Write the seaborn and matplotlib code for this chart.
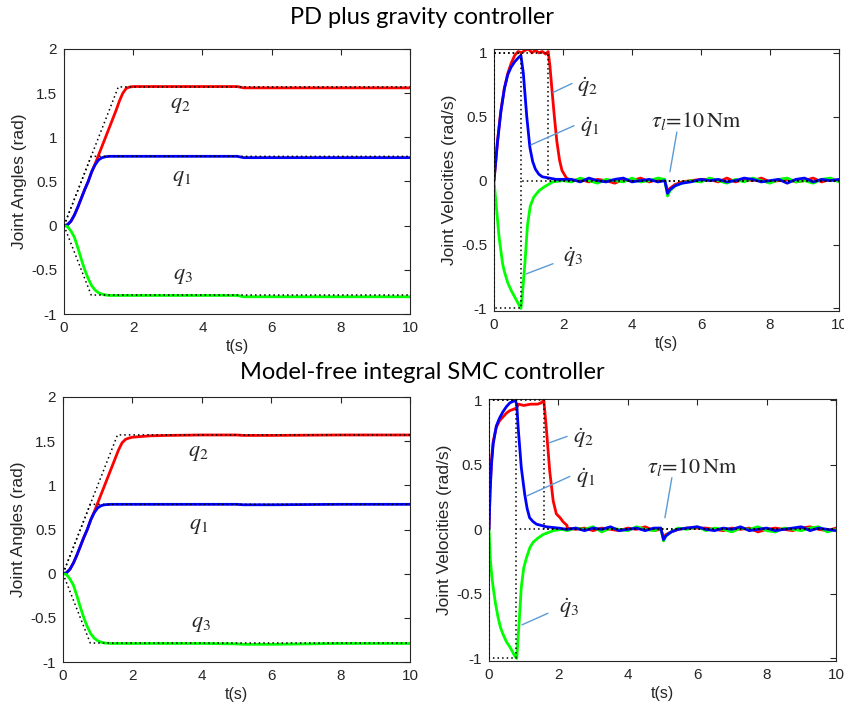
import numpy as np
import seaborn as sns
import matplotlib
matplotlib.use("Agg")
import matplotlib.pyplot as plt
from matplotlib.ticker import FuncFormatter

# ---- reference trajectories (dotted) ----
t_ref_ang = [0, 0.785, 1.571, 10]
q1_ref = [0, 0.785, 0.785, 0.785]
q2_ref = [0, 0.785, 1.571, 1.571]
q3_ref = [0, -0.785, -0.785, -0.785]

t_ref_v1 = [0, 0, 0.785, 0.785, 10]
v1_ref = [0, 1, 1, 0, 0]
t_ref_v2 = [0, 0, 1.571, 1.571, 10]
v2_ref = [0, 1, 1, 0, 0]
t_ref_v3 = [0, 0, 0.785, 0.785]
v3_ref = [0, -1, -1, 0]

# ---- joint angles, PD plus gravity ----
t_ang = [0, 0.1, 0.2, 0.3, 0.4, 0.5, 0.6, 0.7, 0.8, 0.9, 1.0, 1.1, 1.2, 1.3,
         1.4, 1.5, 1.6, 1.7, 1.8, 1.9, 2.0, 2.5, 3.0, 4.0, 5.0, 5.2, 6.0, 8.0, 10.0]
pd_q1 = [0, 0.01, 0.05, 0.12, 0.21, 0.31, 0.41, 0.5, 0.61, 0.69, 0.745, 0.77, 0.78, 0.785,
         0.785, 0.785, 0.785, 0.785, 0.785, 0.785, 0.785, 0.785, 0.785, 0.785, 0.785, 0.77, 0.77, 0.77, 0.77]
pd_q2 = [0, 0.01, 0.05, 0.12, 0.21, 0.31, 0.41, 0.5, 0.61, 0.7, 0.8, 0.9, 1.0, 1.1,
         1.2, 1.3, 1.41, 1.5, 1.555, 1.57, 1.575, 1.575, 1.575, 1.575, 1.575, 1.56, 1.56, 1.56, 1.56]
pd_q3 = [0, -0.01, -0.06, -0.13, -0.25, -0.38, -0.5, -0.6, -0.68, -0.73, -0.76, -0.775, -0.785, -0.79,
         -0.79, -0.79, -0.79, -0.79, -0.79, -0.79, -0.79, -0.79, -0.79, -0.79, -0.79, -0.805, -0.805, -0.805, -0.805]

# ---- joint angles, model-free integral SMC ----
smc_q1 = [0, 0.01, 0.05, 0.12, 0.21, 0.31, 0.41, 0.5, 0.61, 0.69, 0.745, 0.77, 0.78, 0.783,
          0.785, 0.785, 0.785, 0.785, 0.785, 0.785, 0.785, 0.785, 0.785, 0.785, 0.785, 0.78, 0.78, 0.785, 0.785]
smc_q2 = [0, 0.01, 0.05, 0.12, 0.21, 0.31, 0.41, 0.5, 0.61, 0.7, 0.8, 0.9, 1.0, 1.1,
          1.2, 1.3, 1.4, 1.48, 1.52, 1.535, 1.545, 1.56, 1.565, 1.57, 1.57, 1.565, 1.565, 1.57, 1.57]
smc_q3 = [0, -0.01, -0.06, -0.13, -0.25, -0.38, -0.5, -0.6, -0.68, -0.73, -0.76, -0.775, -0.785, -0.788,
          -0.79, -0.79, -0.79, -0.79, -0.79, -0.79, -0.79, -0.79, -0.79, -0.79, -0.795, -0.8, -0.8, -0.79, -0.79]

# ---- joint velocities: transient part ----
pd_t_v2 = [0, 0.05, 0.1, 0.15, 0.2, 0.3, 0.4, 0.5, 0.6, 0.7, 0.8, 0.9, 1.0, 1.1, 1.2, 1.3,
           1.4, 1.5, 1.57, 1.62, 1.68, 1.75, 1.82, 1.9, 1.97, 2.1]
pd_v2 = [0, 0.15, 0.3, 0.43, 0.55, 0.72, 0.84, 0.92, 0.98, 1.01, 1.0, 1.02, 1.03, 1.0, 1.02, 1.0,
         1.01, 0.99, 1.01, 0.9, 0.71, 0.5, 0.31, 0.16, 0.08, 0.02]
pd_t_v1 = [0, 0.05, 0.1, 0.15, 0.2, 0.3, 0.4, 0.5, 0.6, 0.7, 0.78, 0.85, 0.95, 1.04, 1.12,
           1.2, 1.3, 1.4, 1.6, 1.8, 2.0]
pd_v1 = [0, 0.15, 0.3, 0.42, 0.54, 0.72, 0.83, 0.89, 0.93, 0.96, 0.98, 0.84, 0.5, 0.26, 0.15,
         0.09, 0.05, 0.03, 0.02, 0.01, 0.01]
pd_t_v3 = [0, 0.05, 0.1, 0.15, 0.2, 0.25, 0.3, 0.4, 0.5, 0.6, 0.7, 0.78, 0.82, 0.9, 0.97,
           1.05, 1.15, 1.3, 1.45, 1.7, 2.0]
pd_v3 = [0, -0.15, -0.3, -0.45, -0.55, -0.65, -0.71, -0.8, -0.86, -0.91, -0.96, -1.0, -0.9, -0.63, -0.35,
         -0.2, -0.13, -0.08, -0.05, -0.01, 0.0]

smc_t_v2 = [0, 0.03, 0.07, 0.12, 0.21, 0.3, 0.4, 0.5, 0.6, 0.7, 0.79, 0.85, 1.0, 1.2, 1.4,
            1.5, 1.58, 1.65, 1.75, 1.85, 1.94, 2.05, 2.13, 2.25]
smc_v2 = [0, 0.3, 0.53, 0.68, 0.79, 0.84, 0.87, 0.9, 0.92, 0.93, 0.94, 0.97, 0.96, 0.97, 0.97,
          0.98, 1.0, 0.79, 0.45, 0.22, 0.12, 0.09, 0.06, 0.03]
smc_t_v1 = [0, 0.03, 0.07, 0.12, 0.21, 0.3, 0.4, 0.5, 0.6, 0.68, 0.75, 0.8, 0.84, 0.93, 1.03,
            1.1, 1.17, 1.27, 1.37, 1.65, 2.0]
smc_v1 = [0, 0.28, 0.5, 0.66, 0.8, 0.86, 0.91, 0.95, 0.98, 0.99, 1.0, 0.97, 0.79, 0.48, 0.27,
          0.16, 0.09, 0.06, 0.04, 0.02, 0.01]
smc_t_v3 = [0, 0.04, 0.08, 0.12, 0.19, 0.26, 0.33, 0.4, 0.5, 0.6, 0.74, 0.8, 0.87, 0.93, 1.0,
            1.08, 1.18, 1.27, 1.4, 1.56, 1.85, 2.1]
smc_v3 = [0, -0.24, -0.36, -0.45, -0.58, -0.68, -0.76, -0.81, -0.87, -0.91, -0.98, -1.0, -0.71, -0.45, -0.3,
          -0.22, -0.14, -0.1, -0.07, -0.04, -0.01, 0.0]

# ---- joint velocities: steady state (load torque applied at t = 5 s) ----
t_ss = [2.25, 2.5, 2.75, 3.0, 3.25, 3.5, 3.75, 4.0, 4.25, 4.5, 4.75,
        4.95, 5.03, 5.1, 5.25, 5.45, 5.7, 6.0,
        6.25, 6.5, 6.75, 7.0, 7.25, 7.5, 7.75, 8.0, 8.25, 8.5, 8.75, 9.0, 9.25, 9.5, 9.75, 10.0]
pd_v1_ss = [0.01, -0.01, 0.02, 0.0, -0.01, 0.01, 0.02, -0.01, 0.0, 0.01, -0.01,
            0.0, -0.1, -0.07, -0.04, -0.02, -0.01, 0.01,
            0.0, 0.01, -0.01, 0.0, 0.02, 0.01, -0.01, 0.0, 0.01, -0.02, 0.01, 0.02, -0.01, 0.01, 0.0, 0.01]
pd_v2_ss = [0.0, 0.01, -0.01, 0.01, 0.0, -0.02, 0.01, 0.0, 0.02, -0.01, 0.01,
            0.0, -0.08, -0.06, -0.03, -0.01, 0.0, 0.01,
            0.01, -0.01, 0.02, -0.01, 0.01, 0.0, 0.02, -0.01, 0.0, 0.01, -0.01, 0.0, 0.02, -0.01, 0.01, 0.0]
pd_v3_ss = [-0.01, 0.02, 0.0, -0.02, 0.01, 0.0, -0.01, 0.02, -0.01, 0.0, 0.02,
            0.01, -0.12, -0.08, -0.04, -0.02, 0.0, -0.01,
            0.02, 0.0, -0.02, 0.01, -0.01, 0.02, 0.0, -0.02, 0.01, 0.02, -0.01, 0.0, -0.02, 0.01, 0.02, -0.01]
smc_v1_ss = [0.0, 0.01, -0.01, 0.01, 0.0, 0.02, -0.01, 0.0, 0.01, -0.01, 0.01,
             0.01, -0.08, -0.05, -0.02, 0.0, 0.01, 0.02,
             0.0, -0.01, 0.01, 0.0, 0.02, -0.01, 0.0, 0.01, -0.01, 0.0, 0.01, 0.02, -0.01, 0.01, 0.0, -0.01]
smc_v2_ss = [0.01, 0.0, 0.01, -0.01, 0.01, 0.0, -0.01, 0.01, 0.0, 0.02, -0.01,
             0.0, -0.06, -0.04, -0.02, 0.0, 0.01, 0.01,
             0.01, 0.0, -0.01, 0.01, 0.0, 0.01, -0.02, 0.0, 0.01, 0.0, -0.01, 0.01, 0.02, 0.0, -0.01, 0.01]
smc_v3_ss = [-0.01, 0.01, 0.0, 0.02, -0.02, 0.01, 0.0, -0.01, 0.02, 0.0, -0.01,
             0.01, -0.09, -0.05, -0.02, 0.01, 0.0, 0.02,
             -0.01, 0.01, 0.0, -0.02, 0.01, 0.0, 0.02, -0.01, -0.02, 0.01, 0.0, -0.01, 0.01, 0.02, -0.02, 0.0]

# ---- annotation text / positions (data coords) ----
ang_labels = [r"$q_2$", r"$q_1$", r"$q_3$"]
pd_ang_lab_xy = [(3.35, 1.37), (3.4, 0.55), (3.43, -0.56)]
smc_ang_lab_xy = [(3.9, 1.37), (3.92, 0.55), (3.98, -0.56)]
vel_labels = [r"$\dot{q}_2$", r"$\dot{q}_1$", r"$\dot{q}_3$", r"$\tau_l\!=\!10\,\mathrm{Nm}$"]
pd_vel_lab_xy = [(2.7, 0.73), (2.78, 0.42), (2.29, -0.6), (5.88, 0.47)]
pd_vel_lines = [((2.26, 0.76), (1.71, 0.69)), ((2.32, 0.43), (1.07, 0.28)),
                ((1.71, -0.65), (0.93, -0.73)), ((5.3, 0.38), (5.1, 0.07))]
smc_vel_lab_xy = [(2.71, 0.71), (2.8, 0.4), (2.31, -0.61), (5.85, 0.48)]
smc_vel_lines = [((2.25, 0.72), (1.73, 0.67)), ((2.33, 0.41), (1.1, 0.26)),
                 ((1.7, -0.65), (0.95, -0.74)), ((5.27, 0.4), (5.07, 0.09))]

RED, BLUE, GREEN = "#ff0000", "#0000ff", "#00ff00"
LEAD = "#5b9bd5"
INK = "#262626"

sns.set_style("white")
plt.rcParams["font.family"] = ["Liberation Sans", "DejaVu Sans"]
plt.rcParams["mathtext.fontset"] = "stix"
plt.rcParams["axes.unicode_minus"] = False

fig = plt.figure(figsize=(8.44, 7.11), dpi=100)
ax_tl = fig.add_axes([64 / 844, 1 - 314 / 711, 346 / 844, 265 / 711])
ax_tr = fig.add_axes([494 / 844, 1 - 311 / 711, 345 / 844, 262 / 711])
ax_bl = fig.add_axes([63 / 844, 1 - 662 / 711, 347 / 844, 265 / 711])
ax_br = fig.add_axes([489 / 844, 1 - 661 / 711, 347 / 844, 262 / 711])

fmt = FuncFormatter(lambda v, p: f"{v:g}")


def style(ax, ylim, yticks, ylabel):
    ax.set_xlim(0, 10)
    ax.set_ylim(*ylim)
    ax.set_xticks([0, 2, 4, 6, 8, 10])
    ax.set_yticks(yticks)
    ax.xaxis.set_major_formatter(fmt)
    ax.yaxis.set_major_formatter(fmt)
    ax.tick_params(direction="in", length=4, width=0.8, top=True, right=True,
                   labelsize=11, labelcolor=INK, color=INK, pad=5)
    for s in ax.spines.values():
        s.set_color(INK)
        s.set_linewidth(0.8)
    ax.set_xlabel("t(s)", fontsize=11.5, color=INK, labelpad=3)
    ax.set_ylabel(ylabel, fontsize=12.5, color=INK, labelpad=3)


def draw_angles(ax, q1, q2, q3, lab_xy):
    sns.lineplot(x=t_ang, y=q2, ax=ax, color=RED, lw=2, sort=False, estimator=None)
    sns.lineplot(x=t_ang, y=q1, ax=ax, color=BLUE, lw=2, sort=False, estimator=None)
    sns.lineplot(x=t_ang, y=q3, ax=ax, color=GREEN, lw=2, sort=False, estimator=None)
    for r in (q1_ref, q2_ref, q3_ref):
        sns.lineplot(x=t_ref_ang, y=r, ax=ax, color="black", lw=1.1, linestyle=(0, (1, 2)),
                     sort=False, estimator=None, zorder=5)
    for lab, (x, y) in zip(ang_labels, lab_xy):
        ax.text(x, y, lab, fontsize=16, ha="center", va="center")
    style(ax, (-1, 2), [-1, -0.5, 0, 0.5, 1, 1.5, 2], "Joint Angles (rad)")


def draw_vel(ax, series, lab_xy, lines, ylim):
    for (tt, vv, tss, vss, c) in series:
        sns.lineplot(x=list(tt) + t_ss, y=list(vv) + vss, ax=ax, color=c, lw=2,
                     sort=False, estimator=None)
    for tr, vr in ((t_ref_v1, v1_ref), (t_ref_v2, v2_ref), (t_ref_v3, v3_ref)):
        sns.lineplot(x=tr, y=vr, ax=ax, color="black", lw=1.1, linestyle=(0, (1, 2)),
                     sort=False, estimator=None, zorder=5)
    for (p0, p1) in lines:
        ax.plot([p0[0], p1[0]], [p0[1], p1[1]], color=LEAD, lw=1, zorder=6)
    for lab, (x, y) in zip(vel_labels, lab_xy):
        ax.text(x, y, lab, fontsize=16, ha="center", va="center")
    style(ax, ylim, [-1, -0.5, 0, 0.5, 1], "Joint Velocities (rad/s)")


draw_angles(ax_tl, pd_q1, pd_q2, pd_q3, pd_ang_lab_xy)
draw_angles(ax_bl, smc_q1, smc_q2, smc_q3, smc_ang_lab_xy)

draw_vel(ax_tr, [(pd_t_v2, pd_v2, t_ss, pd_v2_ss, RED),
                 (pd_t_v3, pd_v3, t_ss, pd_v3_ss, GREEN),
                 (pd_t_v1, pd_v1, t_ss, pd_v1_ss, BLUE)],
         pd_vel_lab_xy, pd_vel_lines, (-1.02, 1.03))
draw_vel(ax_br, [(smc_t_v2, smc_v2, t_ss, smc_v2_ss, RED),
                 (smc_t_v3, smc_v3, t_ss, smc_v3_ss, GREEN),
                 (smc_t_v1, smc_v1, t_ss, smc_v1_ss, BLUE)],
         smc_vel_lab_xy, smc_vel_lines, (-1.02, 1.01))

fig.text(0.5, 1 - 18 / 711, "PD plus gravity controller", ha="center", va="center",
         fontsize=17, family=["Lato", "DejaVu Sans"], color="black")
fig.text(0.5, 1 - 372 / 711, "Model-free integral SMC controller", ha="center", va="center",
         fontsize=17, family=["Lato", "DejaVu Sans"], color="black")

fig.savefig("out.png", dpi=100)
